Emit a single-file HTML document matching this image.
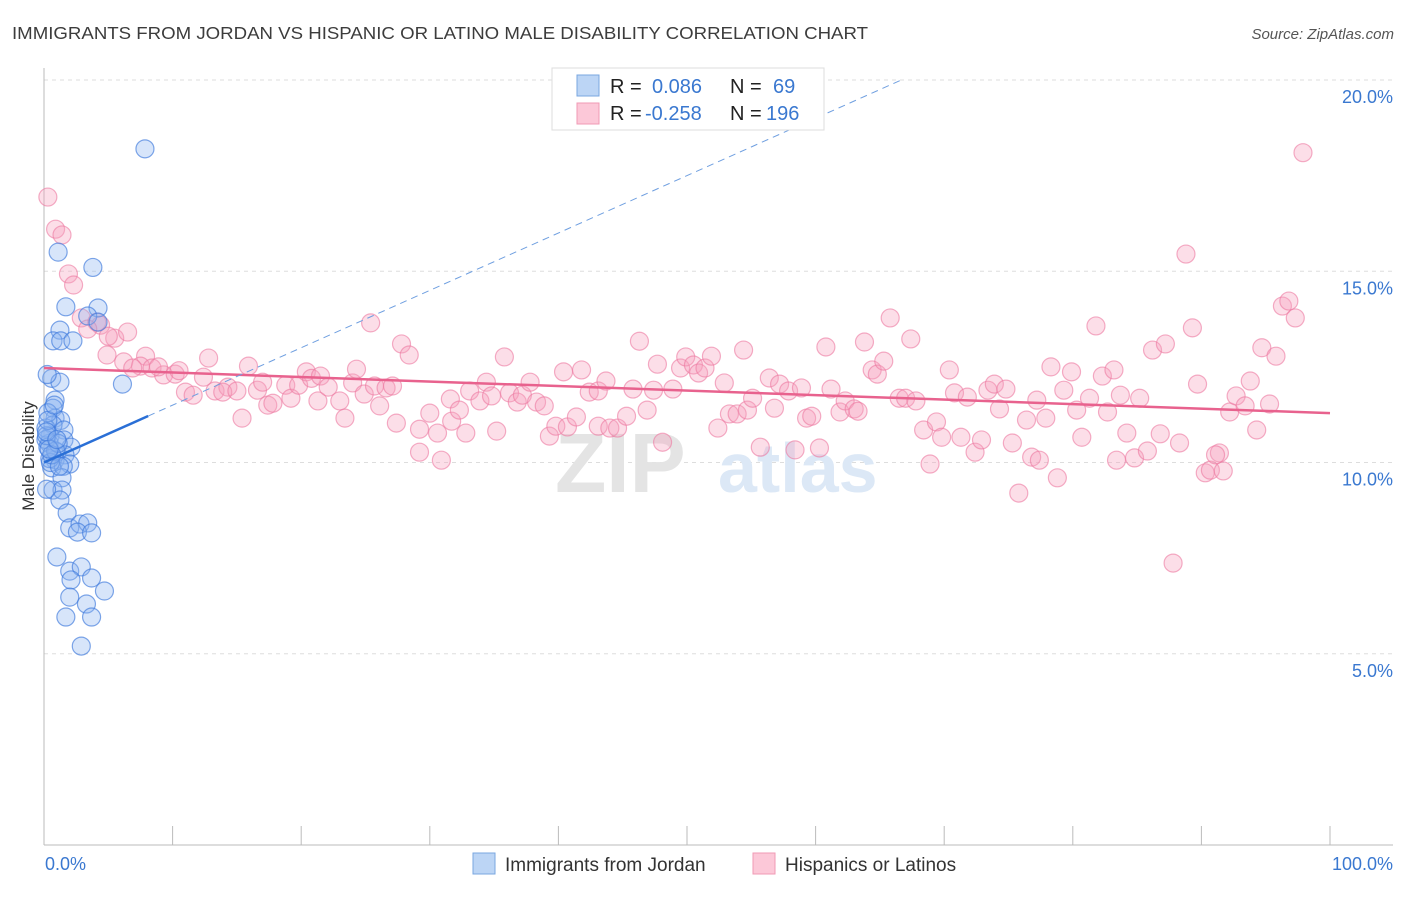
<!DOCTYPE html>
<html><head><meta charset="utf-8"><style>
body{margin:0;background:#fff;font-family:"Liberation Sans",sans-serif;}
svg text{font-family:"Liberation Sans",sans-serif;}
</style></head><body>
<svg id="chart" width="1406" height="892" viewBox="0 0 1406 892" xmlns="http://www.w3.org/2000/svg">
<text x="12" y="39" font-size="17.5" fill="#3c3c3c" textLength="856" lengthAdjust="spacingAndGlyphs">IMMIGRANTS FROM JORDAN VS HISPANIC OR LATINO MALE DISABILITY CORRELATION CHART</text>
<text x="1394" y="39" font-size="15" fill="#555" font-style="italic" text-anchor="end">Source: ZipAtlas.com</text>
<g id="grid"></g>
<g>
<text x="555" y="492" font-size="84" fill="#e4e4e4" font-family="Liberation Serif" font-weight="bold">ZIP</text>
<text x="718" y="492" font-size="70" fill="#dce8f6" font-weight="bold">atlas</text>
</g>
<g id="axes"></g>
<g id="pink"></g>
<g id="blue"></g>
<g id="trends"></g>
<text transform="translate(34,456) rotate(-90)" font-size="17" fill="#333" text-anchor="middle">Male Disability</text>
<g>
<rect x="552" y="68" width="272" height="62" fill="#fff" stroke="#ddd"/>
<rect x="577" y="75" width="22" height="21" fill="#bcd5f5" stroke="#7aa7e0"/>
<rect x="577" y="103" width="22" height="21" fill="#fcc8d8" stroke="#f09ab4"/>
<text x="610" y="93" font-size="20" fill="#222">R =</text>
<text x="652" y="93" font-size="20" fill="#3a78d0">0.086</text>
<text x="730" y="93" font-size="20" fill="#222">N =</text>
<text x="773" y="93" font-size="20" fill="#3a78d0">69</text>
<text x="610" y="120" font-size="20" fill="#222">R =</text>
<text x="645" y="120" font-size="20" fill="#3a78d0">-0.258</text>
<text x="730" y="120" font-size="20" fill="#222">N =</text>
<text x="766" y="120" font-size="20" fill="#3a78d0">196</text>
</g>
<g>
<rect x="473" y="853" width="22" height="21" fill="#bcd5f5" stroke="#7aa7e0"/>
<text x="505" y="871" font-size="19" fill="#333">Immigrants from Jordan</text>
<rect x="753" y="853" width="22" height="21" fill="#fcc8d8" stroke="#f09ab4"/>
<text x="785" y="871" font-size="19" fill="#333">Hispanics or Latinos</text>
</g>
</svg>
<script>
const xTickLabels=["0.0%","100.0%"];
const yTicks=[5,10,15,20];
const yTickLabels=["5.0%","10.0%","15.0%","20.0%"];
const blueX=[7.85,1.1,3.8,1.7,4.2,3.4,4.2,1.24,0.7,1.3,2.25,0.6,1.24,6.1,0.86,0.7,0.86,1.3,0.7,1.55,0.47,1.55,2.1,0.4,1.0,1.63,0.86,2.0,0.6,1.5,1.4,0.7,1.4,1.24,1.8,2.0,2.8,3.4,2.6,3.7,1.0,2.0,2.9,2.1,3.7,4.7,2.0,3.3,1.7,3.7,2.9,0.15,0.15,0.3,0.45,0.2,0.3,0.5,0.2,0.9,1.1,0.3,0.6,0.2,0.8,1.2,0.4,0.25,1.0];
const blueY=[18.2,15.5,15.1,14.07,14.04,13.83,13.67,13.46,13.18,13.18,13.18,12.2,12.1,12.05,11.63,11.42,11.16,11.1,10.98,10.85,10.69,10.59,10.4,10.5,10.27,10.2,10.07,9.96,9.86,9.9,9.6,9.28,9.28,9.02,8.68,8.29,8.39,8.42,8.18,8.16,7.53,7.16,7.27,6.93,6.98,6.64,6.48,6.3,5.96,5.96,5.2,10.9,10.6,10.4,10.1,10.7,11.3,10.0,9.3,10.3,10.5,11.1,10.2,10.8,11.5,9.9,10.35,12.3,10.6];
const pinkX=[0.3,0.9,1.4,1.9,2.3,2.9,4.1,4.4,3.4,5.5,6.5,4.9,6.2,7.9,7.5,8.4,9.3,6.9,8.9,10.2,11.0,11.6,12.8,13.3,12.4,14.3,13.9,15.0,15.4,15.9,16.6,17.0,17.4,17.8,18.8,19.2,19.8,20.4,20.8,21.3,21.5,22.1,23.0,23.4,24.0,24.3,24.9,25.4,25.7,26.1,26.6,27.1,27.8,28.4,27.4,29.2,29.2,30.0,30.6,30.9,31.6,31.7,32.3,32.8,33.1,33.9,34.4,34.8,35.2,35.8,36.2,36.8,37.2,37.8,38.3,38.9,39.3,39.8,40.4,40.7,41.4,41.8,42.4,43.1,43.1,43.7,44.0,44.6,45.3,45.8,46.3,46.9,47.4,47.7,48.1,48.9,49.5,49.9,50.5,50.9,51.4,51.9,52.4,52.9,53.3,53.9,54.4,54.7,55.1,55.7,56.4,56.8,57.2,57.9,58.4,58.9,59.3,59.7,60.3,60.8,61.2,61.9,62.3,63.0,63.3,63.8,64.4,64.8,65.3,65.8,66.5,67.0,67.4,67.8,68.4,68.9,69.4,69.8,70.4,70.8,71.3,71.8,72.4,72.9,73.4,73.9,74.3,74.8,75.3,75.8,76.4,76.8,77.4,77.9,78.3,78.8,79.3,79.9,80.3,80.7,81.3,81.8,82.3,82.7,83.2,83.7,84.2,84.8,85.2,85.8,86.2,86.8,87.2,87.8,88.3,88.8,89.3,89.7,90.3,90.7,91.4,91.7,92.2,92.7,93.4,93.8,94.3,94.7,95.3,95.8,96.3,96.8,97.3,97.9,91.1,77.2,83.4,5.0,10.5];
const pinkY=[16.94,16.1,15.95,14.93,14.64,13.78,13.67,13.59,13.49,13.25,13.41,12.81,12.63,12.78,12.52,12.47,12.29,12.47,12.5,12.31,11.84,11.76,12.73,11.87,12.23,11.97,11.84,11.87,11.16,12.52,11.89,12.1,11.5,11.55,12.02,11.68,12.02,12.37,12.2,11.61,12.26,11.97,11.61,11.16,12.08,12.44,11.79,13.65,12.0,11.48,11.95,12.0,13.1,12.81,11.03,10.27,10.87,11.29,10.77,10.06,11.66,11.08,11.37,10.77,11.87,11.61,12.1,11.74,10.82,12.76,11.82,11.58,11.76,12.1,11.58,11.48,10.69,10.95,12.37,10.93,11.19,12.42,11.84,11.87,10.95,12.13,10.9,10.9,11.21,11.92,13.17,11.37,11.89,12.57,10.53,11.92,12.47,12.76,12.55,12.34,12.47,12.78,10.9,12.08,11.27,11.27,12.94,11.37,11.68,10.4,12.21,11.42,12.05,11.87,10.33,11.95,11.16,11.21,10.38,13.02,11.92,11.32,11.61,11.4,11.34,13.15,12.42,12.31,12.65,13.78,11.68,11.68,13.23,11.61,10.85,9.96,11.06,10.66,12.42,11.82,10.66,11.71,10.27,10.59,11.89,12.05,11.4,11.92,10.51,9.2,11.11,10.14,10.06,11.16,12.5,9.6,11.89,12.37,11.37,10.66,11.68,13.57,12.26,11.32,12.42,11.76,10.77,10.12,11.68,10.3,12.94,10.75,13.1,7.37,10.51,15.45,13.52,12.05,9.73,9.8,10.25,9.78,11.32,11.74,11.48,12.13,10.85,13.0,11.53,12.78,14.09,14.22,13.78,18.1,10.2,11.63,10.06,13.3,12.4];
const blueTrend=[10.0,0.15];
const pinkTrend=[12.47,-0.0118];

const NS="http://www.w3.org/2000/svg";
const X0=44,X1=1330,Y0=845,PXY=38.25;
function sx(v){return X0+(X1-X0)*v/100;}
function sy(v){return Y0-v*PXY;}
function mk(tag,attrs,parent){const e=document.createElementNS(NS,tag);for(const k in attrs)e.setAttribute(k,attrs[k]);parent.appendChild(e);return e;}
const grid=document.getElementById('grid'),axes=document.getElementById('axes');
yTicks.forEach((t,i)=>{
  const l=mk('line',{x1:X0,x2:1393,y1:sy(t),y2:sy(t),stroke:'#ddd','stroke-dasharray':'4,4'},grid);
  
  
  const tx=mk('text',{x:1393,y:sy(t)+23,'font-size':18,fill:'#3a78d0','text-anchor':'end'},axes);
  tx.textContent=yTickLabels[i];
  
  
});
const topGrid=mk('line',{x1:X0,x2:1393,y1:80,y2:80,stroke:'#ddd','stroke-dasharray':'4,4'},grid);


mk('line',{x1:X0,x2:X0,y1:68,y2:Y0,stroke:'#bbb'},axes);
mk('line',{x1:X0,x2:1393,y1:Y0,y2:Y0,stroke:'#bbb'},axes);
for(let i=0;i<=10;i++){const t=mk('line',{x1:sx(i*10),x2:sx(i*10),y1:826,y2:Y0,stroke:'#bbb'},axes);
  
  }
const xl0=mk('text',{x:45,y:870,'font-size':18,fill:'#3a78d0'},axes);xl0.textContent=xTickLabels[0];


const xl1=mk('text',{x:1393,y:870,'font-size':18,fill:'#3a78d0','text-anchor':'end'},axes);xl1.textContent=xTickLabels[1];


const pg=document.getElementById('pink');
pinkX.forEach((x,i)=>{const c=mk('circle',{cx:sx(x),cy:sy(pinkY[i]),r:9,fill:'rgba(246,160,190,0.35)',stroke:'rgba(236,120,160,0.6)','stroke-width':1.2},pg);
  
  });
const bg=document.getElementById('blue');
blueX.forEach((x,i)=>{const c=mk('circle',{cx:sx(x),cy:sy(blueY[i]),r:9,fill:'rgba(140,180,240,0.35)',stroke:'rgba(60,120,220,0.65)','stroke-width':1.2},bg);
  
  });
const tg=document.getElementById('trends');
const pl=mk('line',{x1:sx(0),y1:sy(pinkTrend[0]),x2:sx(100),y2:sy(pinkTrend[0]+pinkTrend[1]*100),stroke:'#e8628e','stroke-width':2.5},tg);


const bxEnd=8.1;
const bl=mk('line',{x1:sx(0),y1:sy(blueTrend[0]),x2:sx(bxEnd),y2:sy(blueTrend[0]+blueTrend[1]*bxEnd),stroke:'#2a6fd6','stroke-width':2.5},tg);


const xd=(20-blueTrend[0])/blueTrend[1];
const bd=mk('line',{x1:sx(bxEnd),y1:sy(blueTrend[0]+blueTrend[1]*bxEnd),x2:sx(xd),y2:sy(20),stroke:'#6f9fe0','stroke-width':1,'stroke-dasharray':'7,5'},tg);


</script>
</body></html>
